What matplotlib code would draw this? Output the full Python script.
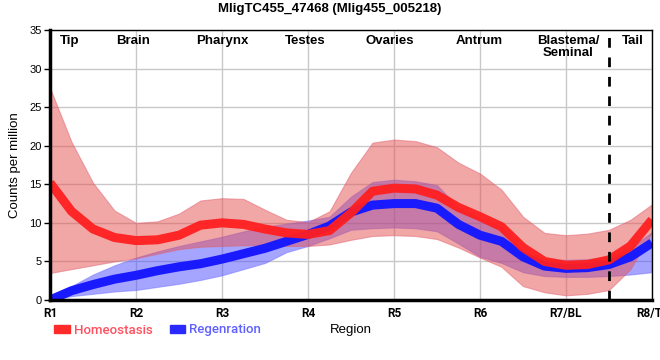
import matplotlib
matplotlib.use("Agg")
import matplotlib.pyplot as plt
import matplotlib.patches as mpatches

pos = [1.0, 1.25, 1.5, 1.75, 2.0, 2.25, 2.5, 2.75, 3.0, 3.25, 3.5, 3.75, 4.0,
       4.25, 4.5, 4.75, 5.0, 5.25, 5.5, 5.75, 6.0, 6.25, 6.5, 6.75, 7.0,
       7.25, 7.5, 7.75, 8.0]

homeo_mean = [15.2, 11.5, 9.2, 8.1, 7.7, 7.8, 8.4, 9.7, 10.0, 9.8, 9.2, 8.7, 8.5,
              9.0, 11.3, 14.1, 14.5, 14.4, 13.6, 12.0, 10.8, 9.5, 6.8, 5.0, 4.5,
              4.6, 5.2, 7.0, 10.4]
homeo_hi = [27.5, 20.5, 15.2, 11.6, 10.0, 10.2, 11.2, 12.9, 13.2, 13.1, 11.7, 10.4, 10.1,
            11.5, 16.5, 20.4, 20.8, 20.6, 19.8, 17.8, 16.4, 14.3, 10.8, 8.7, 8.4,
            8.6, 9.1, 10.4, 12.4]
homeo_lo = [3.5, 4.0, 4.5, 5.0, 5.4, 6.0, 6.6, 6.9, 7.0, 7.1, 7.1, 7.0, 7.0,
            7.2, 7.8, 8.3, 8.4, 8.3, 7.9, 6.8, 5.5, 4.3, 1.8, 1.0, 0.6,
            0.8, 1.3, 4.0, 8.8]

regen_mean = [0.0, 1.2, 2.0, 2.7, 3.2, 3.8, 4.3, 4.7, 5.3, 6.0, 6.7, 7.6, 8.5,
              9.6, 11.4, 12.3, 12.5, 12.5, 11.9, 9.8, 8.4, 7.6, 5.6, 4.4, 4.1,
              4.2, 4.6, 5.6, 7.4]
regen_hi = [0.0, 1.8, 3.3, 4.5, 5.5, 6.3, 7.0, 7.6, 8.2, 8.9, 9.5, 9.9, 10.3,
            10.8, 13.4, 15.3, 15.6, 15.4, 14.9, 12.0, 10.6, 9.5, 6.3, 5.3, 5.2,
            5.3, 5.6, 6.8, 8.8]
regen_lo = [0.0, 0.5, 0.8, 1.1, 1.3, 1.7, 2.1, 2.6, 3.2, 4.0, 4.8, 6.2, 7.0,
            8.0, 9.1, 9.3, 9.4, 9.3, 8.9, 7.3, 5.6, 4.8, 3.6, 3.1, 3.0,
            3.0, 3.1, 3.3, 3.6]

tick_pos = [1, 2, 3, 4, 5, 6, 7, 8]
tick_labels = ["R1", "R2", "R3", "R4", "R5", "R6", "R7/BL", "R8/TL"]

region_names = ["Tip", "Brain", "Pharynx", "Testes", "Ovaries", "Antrum",
                "Blastema/\nSeminal", "Tail"]
region_x = [1.23, 1.97, 3.0, 3.97, 4.95, 5.99, 7.03, 7.78]

title = "MligTC455_47468 (Mlig455_005218)"

fig = plt.figure(figsize=(6.6, 3.6), dpi=100)
ax = fig.add_axes([50/660, 60/360, 602/660, 270/360])

# blue first, red band over it gives the purple overlap
ax.fill_between(pos, regen_lo, regen_hi, color="#4d4dff", alpha=0.5, lw=0.8,
                edgecolor="#7070ff")
ax.plot(pos, regen_mean, color="#1a1aff", lw=6.5, solid_capstyle="butt",
        solid_joinstyle="round")
ax.fill_between(pos, homeo_lo, homeo_hi, color="#e65050", alpha=0.5, lw=0.8,
                edgecolor="#e06070")
ax.plot(pos, homeo_mean, color="#ff1f1f", lw=6.5, alpha=0.95, solid_capstyle="butt",
        solid_joinstyle="round")

ax.axvline(7.5, color="black", lw=2, ls=(0, (3.5, 3.5)))

ax.set_xlim(1, 8)
ax.set_ylim(0, 35)
ax.set_xticks(tick_pos)
ax.set_xticklabels(tick_labels, fontfamily="Roboto", fontweight="bold", fontsize=8.5)
ax.set_yticks(range(0, 36, 5))
ax.tick_params(axis="y", labelsize=8, length=4, width=1, pad=2)
ax.tick_params(axis="x", length=0, pad=5)
for lab in ax.get_yticklabels():
    lab.set_fontfamily("Liberation Sans")
ax.grid(True, color="#c8c8c8", lw=1)
ax.set_axisbelow(True)

for side in ["left", "bottom"]:
    ax.spines[side].set_linewidth(2.5)
for side in ["top", "right"]:
    ax.spines[side].set_linewidth(1)

for name, xx in zip(region_names, region_x):
    ax.text(xx, 34.4, name, ha="center", va="top", fontsize=9.5, fontweight="bold",
            fontfamily="Liberation Sans", linespacing=1.0)

ax.set_ylabel("Counts per million", fontsize=9.5, fontfamily="Liberation Sans", labelpad=6)
fig.text(351/660, 1 - 330/360, "Region", ha="center", va="center", fontsize=9.5,
         fontfamily="Liberation Sans")
fig.text(330/660, 1 - 9/360, title, ha="center", va="center", fontsize=9.5,
         fontweight="bold", fontfamily="Liberation Sans")

handles = [mpatches.Patch(color="#ff2a2a", label="Homeostasis"),
           mpatches.Patch(color="#2a2aff", label="Regenration")]
leg = fig.legend(handles=handles, loc="center left", bbox_to_anchor=(42/660, 1 - 330/360),
                 ncol=2, frameon=False, handlelength=1.2, handleheight=0.6,
                 handletextpad=0.3, columnspacing=1.3,
                 prop={"family": "Roboto", "weight": "medium", "size": 9.5})
leg.get_texts()[0].set_color("#ff5060")
leg.get_texts()[1].set_color("#6060ff")

fig.savefig("out.png", dpi=100)
